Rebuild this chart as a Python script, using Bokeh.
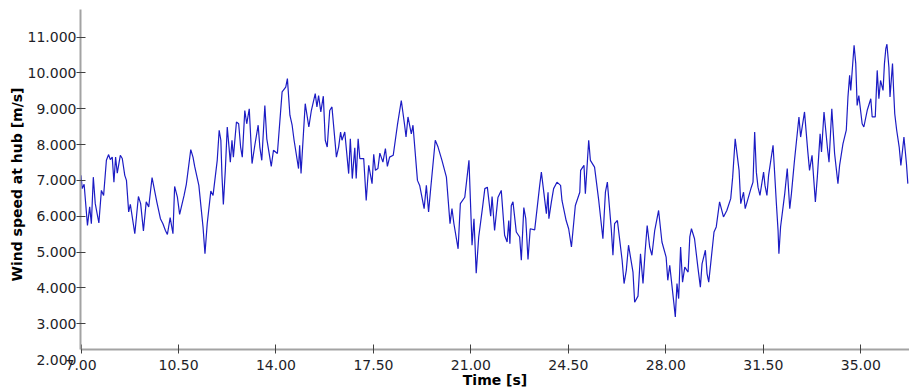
from bokeh.plotting import figure
from bokeh.models import FixedTicker, NumeralTickFormatter, Range1d, LinearAxis
from bokeh.embed import file_html
from bokeh.resources import INLINE

# ---- data ----
time_s = [
    7.00, 7.04, 7.11, 7.23, 7.31, 7.37, 7.44, 7.51, 7.64, 7.73, 7.81, 7.91, 7.99, 8.05, 8.12, 8.18,
    8.24, 8.30, 8.41, 8.48, 8.57, 8.63, 8.71, 8.77, 8.93, 9.06, 9.14, 9.24, 9.34, 9.43, 9.55, 9.72,
    9.85, 9.94, 10.03, 10.10, 10.20, 10.30, 10.36, 10.46, 10.54, 10.63, 10.70, 10.78, 10.94, 11.02,
    11.08, 11.23, 11.38, 11.45, 11.53, 11.66, 11.74, 11.89, 11.96,
    12.02, 12.06, 12.11, 12.18, 12.25, 12.36, 12.42, 12.47, 12.58, 12.66, 12.73, 12.79, 12.88, 12.95,
    13.04, 13.14, 13.24, 13.36, 13.42, 13.49, 13.60, 13.67, 13.83, 13.91, 14.05, 14.22, 14.35, 14.41,
    14.50, 14.58, 14.65, 14.81, 14.85, 14.90, 15.05, 15.18, 15.27, 15.41, 15.47, 15.53, 15.61, 15.70,
    15.77, 15.84, 15.93, 16.01, 16.17, 16.25, 16.32, 16.37, 16.47, 16.61, 16.67, 16.74, 16.83, 16.88,
    16.95, 17.01,
    17.15, 17.24, 17.33, 17.45, 17.51, 17.57, 17.66, 17.73, 17.84, 17.93, 18.00, 18.08, 18.21, 18.36,
    18.50, 18.62, 18.67, 18.74, 18.86, 18.92, 19.08, 19.16, 19.32, 19.40, 19.48, 19.56, 19.72, 19.82,
    19.96, 20.12, 20.25, 20.32, 20.39, 20.54, 20.62, 20.78, 20.93, 21.04, 21.11, 21.19, 21.28, 21.42,
    21.50, 21.59, 21.71, 21.76, 21.85, 21.97,
    22.09, 22.21, 22.30, 22.36, 22.40, 22.45, 22.51, 22.63, 22.75, 22.81, 22.90, 22.97, 23.05, 23.13,
    23.29, 23.47, 23.53, 23.71, 23.77, 23.80, 23.89, 23.97, 24.09, 24.22, 24.27, 24.42, 24.51, 24.61,
    24.75, 24.85, 24.91, 24.94, 25.06, 25.11, 25.23, 25.29, 25.44, 25.59, 25.74, 25.83, 25.90, 26.04,
    26.10, 26.16, 26.26, 26.43, 26.50, 26.58, 26.66, 26.82, 26.88, 27.00,
    27.09, 27.18, 27.26, 27.33, 27.42, 27.50, 27.60, 27.74, 27.86, 28.01, 28.07, 28.14, 28.29, 28.34,
    28.40, 28.46, 28.53, 28.60, 28.68, 28.80, 28.86, 28.92, 29.03, 29.15, 29.24, 29.30, 29.42, 29.48,
    29.54, 29.61, 29.73, 29.81, 29.93, 30.07, 30.19, 30.33, 30.40, 30.49, 30.63, 30.69, 30.79, 30.85,
    31.07, 31.13, 31.19, 31.25, 31.31, 31.38, 31.51, 31.56, 31.63, 31.69, 31.85, 31.97, 32.03, 32.06,
    32.12, 32.21, 32.27, 32.36, 32.45, 32.51, 32.62, 32.78, 32.84, 32.98, 33.10, 33.16, 33.25, 33.37,
    33.44, 33.54, 33.59, 33.68, 33.80, 33.86, 33.96, 34.06, 34.18, 34.24, 34.36, 34.48, 34.54, 34.60,
    34.64, 34.76, 34.82, 34.87, 34.93, 35.05, 35.11, 35.23, 35.36, 35.41, 35.52, 35.59, 35.65, 35.71,
    35.80, 35.85, 35.90, 35.94, 36.01, 36.05, 36.14, 36.18, 36.22, 36.29, 36.38, 36.44, 36.50, 36.55,
    36.64, 36.69,
]
wind_speed = [
    7.14, 6.77, 6.89, 5.74, 6.26, 5.79, 7.09, 6.35, 5.81, 6.72, 6.58, 7.56, 7.72, 7.58, 7.65, 6.95,
    7.65, 7.20, 7.70, 7.61, 7.14, 7.00, 6.12, 6.33, 5.51, 6.55, 6.35, 5.59, 6.40, 6.26, 7.08, 6.40,
    5.93, 5.79, 5.60, 5.49, 5.96, 5.51, 6.83, 6.53, 6.05, 6.35, 6.58, 6.89, 7.86, 7.65,
    7.39, 6.86, 5.70, 4.95, 5.79, 6.70, 6.58, 7.56, 8.40,
    8.12, 7.14, 6.33, 7.28, 8.49, 7.51, 8.12, 7.65, 8.63, 8.58, 7.93, 7.65, 8.95, 8.58,
    9.00, 7.47, 7.98, 8.54, 7.93, 7.56, 9.09, 8.16, 7.39, 7.84, 7.75, 9.47, 9.60, 9.84,
    8.82, 8.54, 8.12, 7.33, 7.98, 7.19, 9.14, 8.49, 8.95, 9.42, 9.05, 9.37, 8.91, 9.35,
    8.12, 7.93, 8.95, 9.05, 7.65, 7.93, 8.35, 8.12, 8.35, 7.19, 8.16, 7.05, 7.91, 7.05,
    8.16, 7.61,
    7.61, 6.44, 7.42, 6.91, 7.73, 7.28, 7.33, 7.76, 7.51, 7.89, 7.39, 7.65, 7.70, 8.54,
    9.23, 8.54, 8.21, 8.77, 8.30, 8.54, 7.00, 6.86, 6.21, 6.86, 6.12, 6.81, 8.12, 7.93,
    7.56, 7.09, 5.79, 6.21, 5.79, 5.09, 6.35, 6.53, 7.56, 5.19, 5.93, 4.41, 5.42, 6.26,
    6.77, 6.81, 6.00, 6.55, 5.60, 6.52,
    6.72, 5.47, 5.28, 5.88, 5.23, 6.30, 6.40, 5.56, 5.42, 4.77, 6.24, 5.93, 4.79, 5.65,
    5.62, 6.86, 7.23, 6.07, 6.67, 5.93, 6.40, 6.77, 6.95, 6.86, 6.44, 5.88, 5.65, 5.14,
    6.30, 6.53, 6.67, 7.28, 7.42, 6.63, 8.12, 7.56, 7.37, 6.44, 5.37, 6.67, 6.95, 5.65,
    4.91, 5.79, 5.88, 4.77, 4.12, 4.49, 5.19, 4.44, 3.60, 3.77,
    4.95, 4.12, 5.05, 5.74, 5.14, 4.91, 5.60, 6.16, 5.28, 4.86, 4.21, 4.63, 3.56, 3.19,
    4.12, 3.70, 5.14, 4.16, 4.58, 4.44, 5.42, 5.65, 5.37, 4.58, 4.02, 4.67, 5.05, 4.40,
    4.16, 4.67, 5.56, 5.70, 6.40, 5.98, 6.16, 6.49, 7.09, 8.16, 7.28, 6.35, 6.67, 6.21,
    6.81, 6.95, 8.35, 7.23, 6.81, 6.58, 7.23, 6.86, 6.58, 7.14, 7.98, 6.35, 5.60, 4.95,
    5.70, 6.26, 6.63, 7.33, 6.21, 6.63, 7.56, 8.77, 8.21, 8.91, 7.79, 7.28, 7.70, 6.40,
    7.09, 8.30, 7.79, 8.91, 7.93, 7.51, 9.00, 7.75, 6.91, 7.42, 8.02, 8.40, 9.33, 9.93,
    9.51, 10.77, 10.26, 9.09, 9.37, 8.58, 8.49, 8.95, 9.28, 8.77, 8.77, 10.07, 9.28, 9.79,
    9.51, 10.26, 10.68, 10.80, 10.16, 9.33, 10.26, 9.51, 8.86, 8.40, 7.93, 7.42, 7.84, 8.21,
    7.47, 6.91,
]
x_ticks = [7.0, 10.5, 14.0, 17.5, 21.0, 24.5, 28.0, 31.5, 35.0]
y_tick_marks = [3, 4, 5, 6, 7, 8, 9, 10, 11]
y_tick_labels_at = [2, 3, 4, 5, 6, 7, 8, 9, 10, 11]
time_axis_level = 2.285       # wind speed at which the time axis crosses
y_top = 11.77
x_title = "Time [s]"
y_title = "Wind speed at hub [m/s]"

FONT = "DejaVu Sans"
LABEL_COLOR = "#1e1e28"
AXIS_GRAY = "#a3a3a3"
TICK_COLOR = "#404040"

p = figure(
    width=909, height=392, output_backend="svg", toolbar_location=None,
    x_range=Range1d(6.98, 36.75), y_range=Range1d(2.0, y_top),
    min_border_left=80, min_border_right=0, min_border_top=9, min_border_bottom=33,
)
p.line(time_s, wind_speed, line_color="#1c1cc4", line_width=1.2)

p.grid.visible = False
p.outline_line_color = None
p.background_fill_color = "white"
p.border_fill_color = "white"

xa = p.below[0]     # default time axis (labels + title)
spine = p.left[0]   # default wind speed axis (line + tick marks)


def style_text(ax):
    ax.minor_tick_line_color = None
    ax.major_label_text_font = FONT
    ax.major_label_text_font_size = "14px"
    ax.major_label_text_color = LABEL_COLOR
    ax.axis_label_text_font = FONT
    ax.axis_label_text_font_size = "14px"
    ax.axis_label_text_font_style = "bold"
    ax.axis_label_text_color = "black"


def hide_labels(ax, ticks):
    ax.major_label_text_color = None
    ax.major_label_overrides = {t: "" for t in ticks}
    ax.major_label_standoff = 0


# ---- time axis labels and title (panel below) ----
style_text(xa)
xa.axis_line_color = None
xa.major_tick_line_color = None
xa.major_tick_in = 0
xa.major_tick_out = 0
xa.ticker = FixedTicker(ticks=x_ticks)
xa.formatter = NumeralTickFormatter(format="0.00")
xa.major_label_standoff = 0
xa.axis_label = x_title
xa.axis_label_standoff = -1

# ---- left spine with tick marks (stops at the time axis) ----
style_text(spine)
spine.bounds = (time_axis_level, y_top)
spine.axis_line_color = AXIS_GRAY
spine.axis_line_width = 2
spine.ticker = FixedTicker(ticks=y_tick_marks)
spine.major_tick_line_color = TICK_COLOR
spine.major_tick_in = 5
spine.major_tick_out = 4
hide_labels(spine, y_tick_marks)

# ---- time axis line + ticks, drawn where the axis crosses (2.285) ----
xline = LinearAxis(ticker=FixedTicker(ticks=x_ticks), fixed_location=time_axis_level)
style_text(xline)
xline.axis_line_color = AXIS_GRAY
xline.axis_line_width = 2
xline.major_tick_line_color = TICK_COLOR
xline.major_tick_out = 5
xline.major_tick_in = 4
hide_labels(xline, x_ticks)
p.add_layout(xline, "above")

# ---- wind speed tick labels (down to 2.000) ----
ya = LinearAxis(ticker=FixedTicker(ticks=y_tick_labels_at),
                formatter=NumeralTickFormatter(format="0.000"))
style_text(ya)
ya.axis_line_color = None
ya.major_tick_line_color = None
ya.major_tick_in = 0
ya.major_tick_out = 0
ya.major_label_standoff = 0
p.add_layout(ya, "left")

# ---- wind speed title, centred on the plotted span ----
yt = LinearAxis(ticker=FixedTicker(ticks=[]), axis_label=y_title,
                bounds=(time_axis_level, y_top))
style_text(yt)
yt.axis_line_color = None
yt.major_tick_line_color = None
yt.major_tick_in = 0
yt.major_tick_out = 0
yt.major_label_standoff = 0
yt.axis_label_standoff = 0
p.add_layout(yt, "left")

open("out.html", "w").write(file_html(p, INLINE))
